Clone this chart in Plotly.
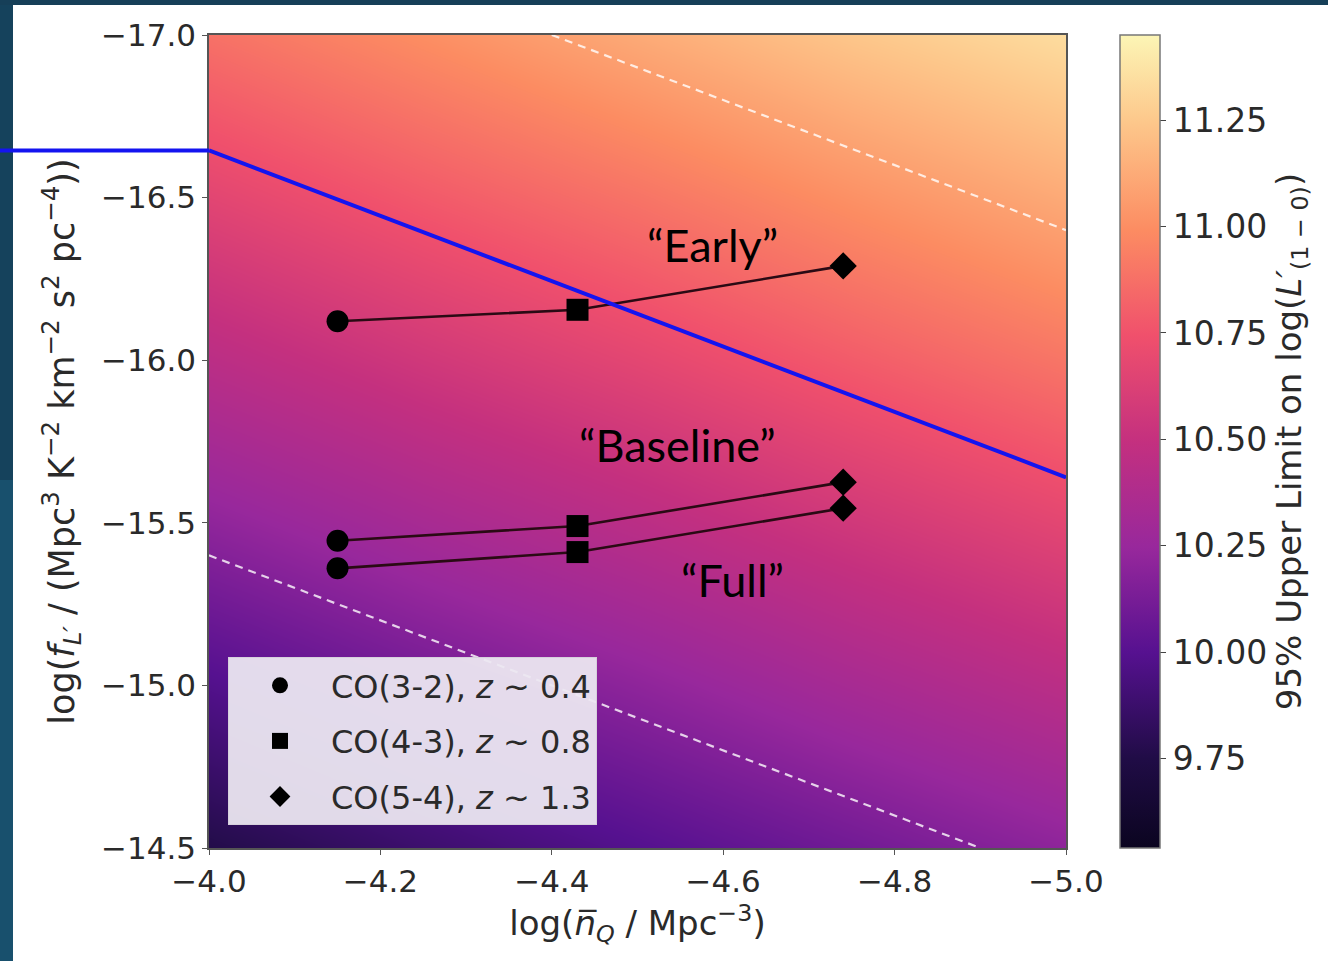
import plotly.graph_objects as go

# ---------------- data ----------------
# background field: 95% upper limit on log(L'), read at grid nodes
grid_x = [-4.0, -4.25, -4.5, -4.75, -5.0]
grid_y = [-17.0, -16.5, -16.0, -15.5, -15.0, -14.5]
grid_z = [
    [10.88, 11.00, 11.12, 11.24, 11.34],
    [10.66, 10.78, 10.89, 11.01, 11.12],
    [10.44, 10.56, 10.67, 10.79, 10.90],
    [10.21, 10.33, 10.44, 10.56, 10.67],
    [9.98, 10.10, 10.21, 10.33, 10.44],
    [9.76, 9.88, 9.99, 10.10, 10.21],
]
cbar_min, cbar_max = 9.54, 11.45
cbar_ticks = [9.75, 10.00, 10.25, 10.50, 10.75, 11.00, 11.25]
# colours of the photographed colour bar (magma-like)
cbar_stops = [0.0, 0.11, 0.24, 0.37, 0.50, 0.63, 0.76, 0.89, 1.0]
cbar_colors = ["#0b0520", "#200c46", "#561190", "#98289c", "#c4307f",
               "#f0506c", "#fc8c62", "#fdc68a", "#fcf5b5"]

# CO transitions (x positions) and survey scenarios (y values)
transitions = ["CO(3-2), <i>z</i> ~ 0.4", "CO(4-3), <i>z</i> ~ 0.8", "CO(5-4), <i>z</i> ~ 1.3"]
symbols = ["circle", "square", "diamond"]
marker_sizes = [22, 22, 21]
trans_x = [-4.15, -4.43, -4.74]
scenarios = ["“Early”", "“Baseline”", "“Full”"]
early = [-16.12, -16.155, -16.29]
baseline = [-15.445, -15.49, -15.625]
full = [-15.36, -15.41, -15.545]
scenario_y = [early, baseline, full]
label_x = [-4.588, -4.547, -4.611]
label_y = [-16.354, -15.739, -15.324]

# white dashed contours and blue threshold line
contour_hi_x = [-4.40, -5.0]
contour_hi_y = [-17.0, -16.40]
contour_lo_x = [-4.0, -4.90]
contour_lo_y = [-15.40, -14.50]
blue_x = [-4.0, -5.0]
blue_y = [-16.645, -15.64]

x_ticks = [-4.0, -4.2, -4.4, -4.6, -4.8, -5.0]
y_ticks = [-17.0, -16.5, -16.0, -15.5, -15.0, -14.5]

# ---------------- layout geometry ----------------
W, H = 1328, 961
L, R, T, B = 209, 262, 35, 113
pw, ph = W - L - R, H - T - B


def px_to_paper_x(p):
    return (p - L) / pw


def px_to_paper_y(p):
    return 1 - (p - T) / ph


FONT = "DejaVu Sans"
TXT = "#2a2a2a"

fig = go.Figure()

fig.add_trace(go.Heatmap(
    x=grid_x, y=grid_y, z=grid_z, zsmooth="best",
    colorscale=[[s, c] for s, c in zip(cbar_stops, cbar_colors)],
    zmin=cbar_min, zmax=cbar_max,
    showscale=True,
    colorbar=dict(
        x=px_to_paper_x(1120), xanchor="left", xpad=0, ypad=0,
        y=0.5, yanchor="middle", len=1.0, lenmode="fraction",
        thickness=40, thicknessmode="pixels",
        outlinewidth=1.5, outlinecolor="#777777",
        tickvals=cbar_ticks, ticktext=[f"{v:.2f}" for v in cbar_ticks],
        ticks="outside", ticklen=6, tickcolor="#444444",
        tickfont=dict(family=FONT, size=33, color=TXT),
        title=dict(text="95% Upper Limit on log(<i>L′</i><sub>(1 − 0)</sub>)",
                   side="right", font=dict(family=FONT, size=34, color=TXT)),
    ),
    hoverinfo="skip",
))

for cx, cy in [(contour_hi_x, contour_hi_y), (contour_lo_x, contour_lo_y)]:
    fig.add_trace(go.Scatter(
        x=cx, y=cy, mode="lines", showlegend=False, hoverinfo="skip",
        line=dict(color="rgba(255,255,255,0.8)", width=2.2, dash="8px,6px"),
    ))

for ys in scenario_y:
    fig.add_trace(go.Scatter(
        x=trans_x, y=ys, mode="lines", showlegend=False, hoverinfo="skip",
        line=dict(color="#2a0a14", width=2.6),
    ))

fig.add_trace(go.Scatter(
    x=blue_x, y=blue_y, mode="lines", showlegend=False, hoverinfo="skip",
    line=dict(color="#1414f0", width=4),
))

for i, name in enumerate(transitions):
    fig.add_trace(go.Scatter(
        x=[trans_x[i]] * len(scenario_y),
        y=[ys[i] for ys in scenario_y],
        mode="markers", name=name, legendgroup=f"g{i}",
        marker=dict(symbol=symbols[i], size=marker_sizes[i], color="black",
                    line=dict(width=0)),
    ))

for name, lx, ly in zip(scenarios, label_x, label_y):
    fig.add_annotation(x=lx, y=ly, text=name, showarrow=False,
                       font=dict(family="Lato", size=45, color="black"),
                       xanchor="center", yanchor="middle")

# slide background strips and the blue line's extension past the axes
shapes = [
    dict(type="rect", xref="paper", yref="paper",
         x0=px_to_paper_x(0), x1=px_to_paper_x(13),
         y0=px_to_paper_y(480), y1=px_to_paper_y(0),
         fillcolor="#15425c", line=dict(width=0), layer="above"),
    dict(type="rect", xref="paper", yref="paper",
         x0=px_to_paper_x(0), x1=px_to_paper_x(13),
         y0=px_to_paper_y(H), y1=px_to_paper_y(480),
         fillcolor="#18506d", line=dict(width=0), layer="above"),
    dict(type="rect", xref="paper", yref="paper",
         x0=px_to_paper_x(0), x1=px_to_paper_x(W),
         y0=px_to_paper_y(5), y1=px_to_paper_y(0),
         fillcolor="#163f58", line=dict(width=0), layer="above"),
    dict(type="line", xref="paper", yref="y",
         x0=px_to_paper_x(0), x1=0, y0=blue_y[0], y1=blue_y[0],
         line=dict(color="#1414f0", width=4), layer="above"),
]

axis_common = dict(
    showgrid=False, zeroline=False, showline=True, mirror=True,
    linecolor="#555555", linewidth=1.5, ticks="outside", ticklen=5,
    tickcolor="#555555", tickfont=dict(family=FONT, size=31, color=TXT),
)

fig.update_layout(
    width=W, height=H,
    margin=dict(l=L, r=R, t=T, b=B, autoexpand=False),
    paper_bgcolor="white", plot_bgcolor="white",
    shapes=shapes,
    xaxis=dict(range=[-4.0, -5.0], tickvals=x_ticks,
               ticktext=[f"−{abs(v):.1f}" for v in x_ticks],
               title=dict(text="log(<i>n̅</i><sub><i>Q</i></sub> / Mpc<sup>−3</sup>)",
                          standoff=6, font=dict(family=FONT, size=34, color=TXT)),
               automargin=False, **axis_common),
    yaxis=dict(range=[-14.5, -17.0], tickvals=y_ticks,
               ticktext=[f"−{abs(v):.1f}" for v in y_ticks],
               title=dict(text="log(<i>f</i><sub><i>L′</i></sub> / (Mpc<sup>3</sup> K<sup>−2</sup> km<sup>−2</sup> s<sup>2</sup> pc<sup>−4</sup>))",
                          standoff=16, font=dict(family=FONT, size=35, color=TXT)),
               automargin=False, **axis_common),
    legend=dict(
        x=px_to_paper_x(228), y=px_to_paper_y(657), xanchor="left", yanchor="top",
        bgcolor="rgba(236,232,241,0.94)", bordercolor="rgba(214,208,220,1)", borderwidth=1,
        font=dict(family=FONT, size=32, color=TXT),
        tracegroupgap=11, itemwidth=92,
    ),
)

fig.write_html("out.html", config={"displayModeBar": False},
               post_script="document.body.style.margin='0px';")
